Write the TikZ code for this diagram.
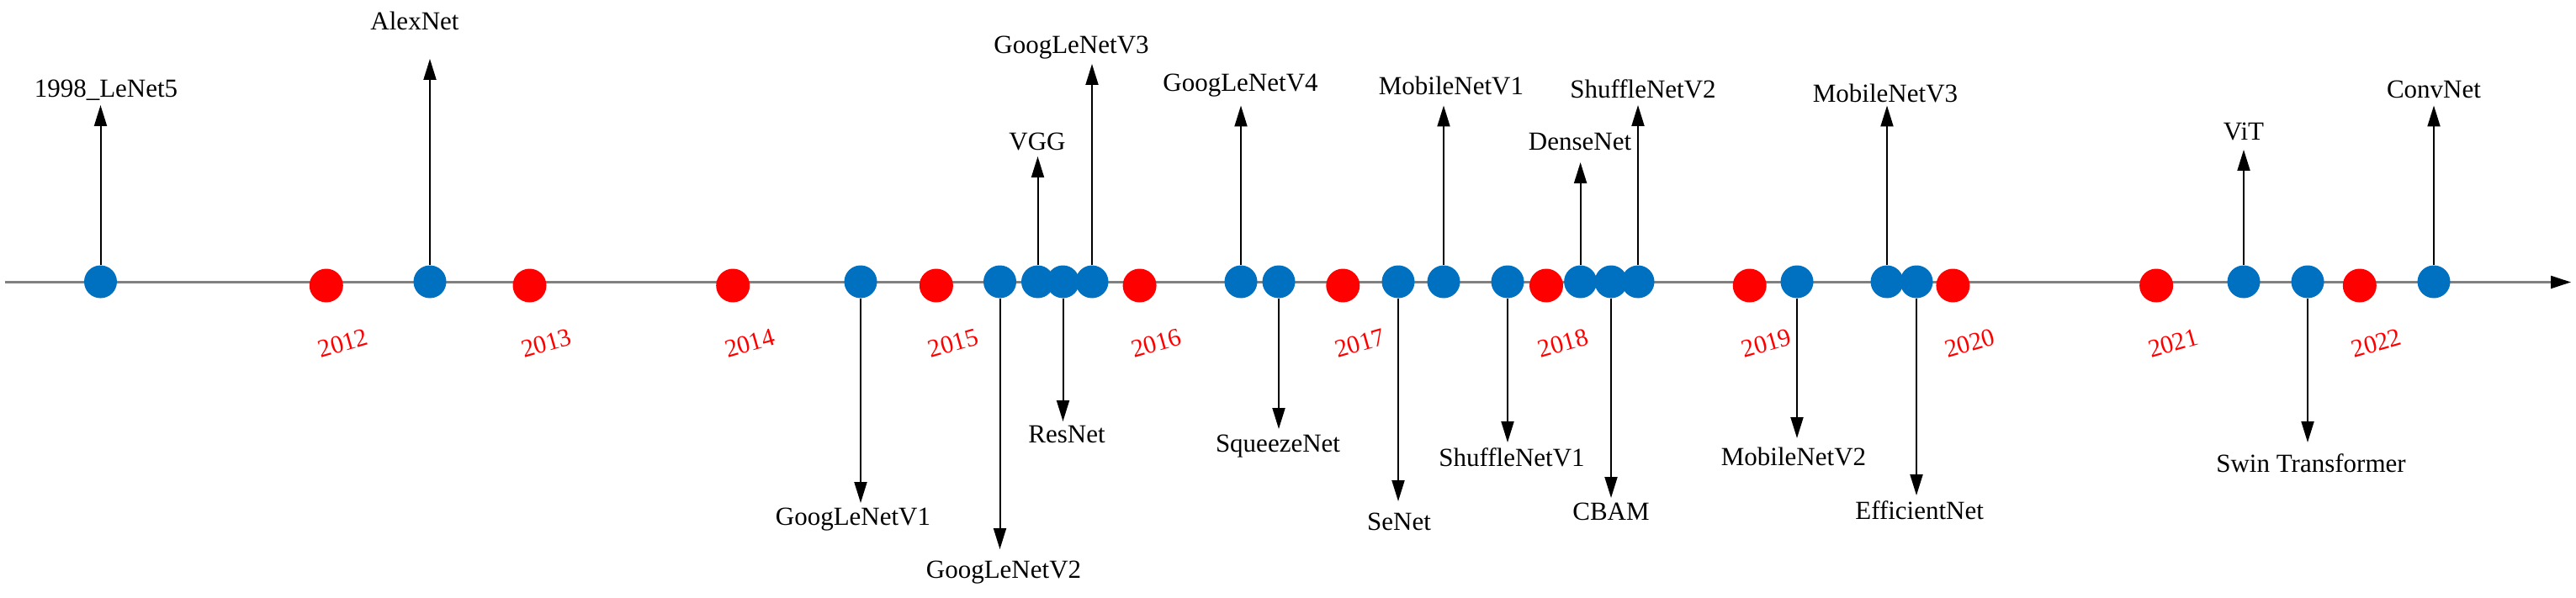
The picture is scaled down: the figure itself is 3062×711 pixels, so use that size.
\documentclass[tikz,border=0pt]{standalone}
\usepackage{fontspec}
\setmainfont{Liberation Serif}
\usetikzlibrary{arrows.meta}
\definecolor{dotblue}{HTML}{0070C0}
\definecolor{dotred}{HTML}{FF0000}
\definecolor{axisgrey}{HTML}{808080}
\begin{document}
\begin{tikzpicture}[x=1pt,y=-1pt,
  bdot/.style={circle,fill=dotblue,inner sep=0pt,minimum size=39pt},
  rdot/.style={circle,fill=dotred,inner sep=0pt,minimum size=40pt},
  arr/.style={line width=2pt,-{Triangle[length=25pt,width=15pt]}},
  axisline/.style={draw=axisgrey,line width=2.2pt,-{Triangle[length=24pt,width=15pt,color=black]}},
  lbl/.style={font=\fontsize{31}{36}\selectfont,inner sep=0pt,anchor=base},
  yr/.style={font=\fontsize{30}{36}\selectfont,text=dotred,inner sep=0pt,rotate=16}]
\useasboundingbox (0,0) rectangle (3062,711);
\coordinate (a0) at (6,335.5);
\coordinate (a1) at (3056,335.5);
\draw[axisline] (a0) -- (a1);
% year markers
\foreach \yy [count=\k from 0] in {2012,2013,2014,2015,2016,2017,2018,2019,2020,2021,2022}{
  \node[rdot] (r\yy) at ({387.8+241.7*\k},339.5) {};
  \node[yr] (y\yy) at ({407.8+241.7*\k},408) {\yy};
}
% networks
\foreach \n/\x/\t/\lx/\ly/\txt in {
  lenet/119.5/125/126/116/{1998\_LeNet5},
  alex/511/70/493/36/{AlexNet},
  gv1/1023/598/1014/624/{GoogLeNetV1},
  gv2/1188.5/653/1193/687/{GoogLeNetV2},
  vgg/1233.5/186/1233/179/{VGG},
  res/1263.5/501/1268/526/{ResNet},
  gv3/1298/76/1273.5/64/{GoogLeNetV3},
  gv4/1475/125.5/1474.5/109/{GoogLeNetV4},
  squeeze/1520/510/1519/537/{SqueezeNet},
  se/1662/596/1663/630/{SeNet},
  mv1/1716/125.5/1725/112.5/{MobileNetV1},
  sv1/1792/526/1797/554/{ShuffleNetV1},
  dense/1878.6/193/1878/179/{DenseNet},
  cbam/1915/592/1915/618/{CBAM},
  sv2/1947/125/1953/117/{ShuffleNetV2},
  mv2/2136/521/2132/553/{MobileNetV2},
  mv3/2243/125.5/2241/121.5/{MobileNetV3},
  eff/2278/589/2281.6/617/{EfficientNet},
  vit/2667/178/2667/167/{ViT},
  swin/2743/526/2747/561.5/{Swin Transformer},
  conv/2893/125.5/2893/117/{ConvNet}}{
  \node[bdot] (\n) at (\x,335) {};
  \coordinate (\n t) at (\x,\t);
  \node[lbl] (\n l) at (\lx,\ly) {\txt};
  \draw[arr] (\n) -- (\n t);
}
\end{tikzpicture}
\end{document}
